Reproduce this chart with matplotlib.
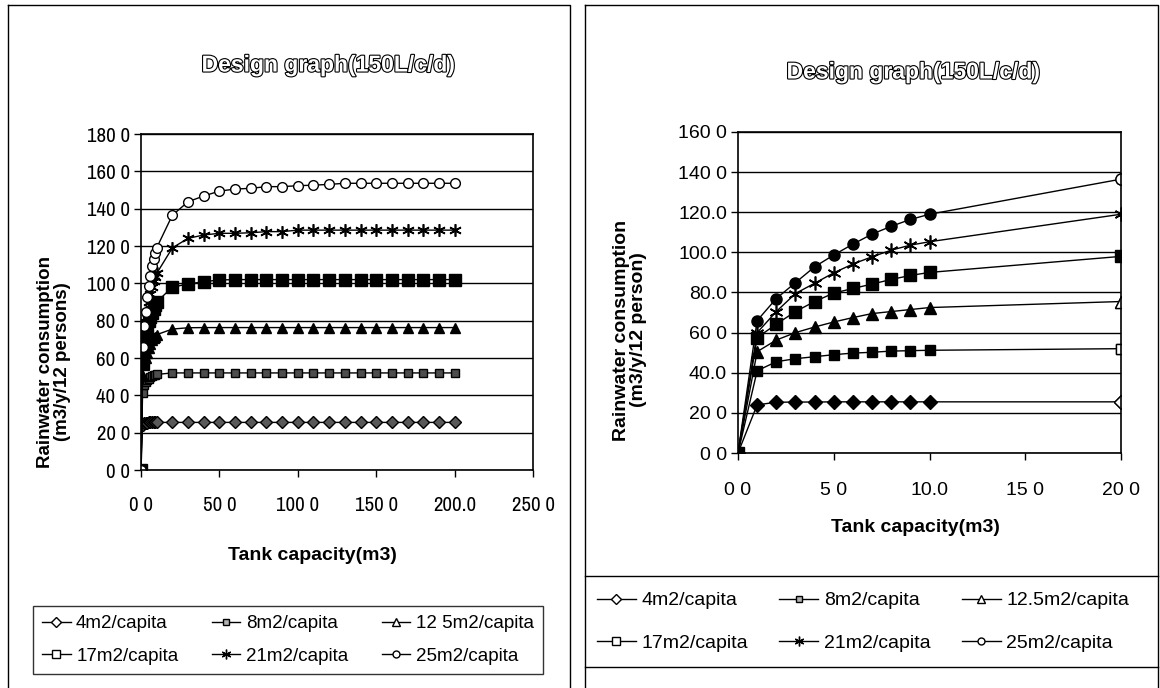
import matplotlib.pyplot as plt
import matplotlib.patheffects as pe
from matplotlib import font_manager
from matplotlib.lines import Line2D

# tank capacity (m3) and yearly rainwater consumption (m3/y/12 persons)
tank = [0, 1, 2, 3, 4, 5, 6, 7, 8, 9, 10, 20, 30, 40, 50, 60, 70, 80, 90, 100,
        110, 120, 130, 140, 150, 160, 170, 180, 190, 200]

roof_4 = [0.0, 24.0, 25.3, 25.4, 25.4, 25.5, 25.5, 25.5, 25.5, 25.5, 25.5, 25.5,
          25.5, 25.5, 25.5, 25.5, 25.5, 25.5, 25.5, 25.5, 25.5, 25.5, 25.5, 25.5,
          25.5, 25.5, 25.5, 25.5, 25.5, 25.5]
roof_8 = [0.0, 41.0, 45.5, 47.0, 48.0, 49.0, 49.8, 50.2, 50.8, 51.0, 51.2, 52.0,
          52.0, 52.0, 52.0, 52.0, 52.0, 52.0, 52.0, 52.0, 52.0, 52.0, 52.0, 52.0,
          52.0, 52.0, 52.0, 52.0, 52.0, 52.0]
roof_12_5 = [0.0, 50.5, 56.3, 60.0, 62.8, 65.3, 67.5, 69.5, 70.5, 71.5, 72.5, 75.5,
             76.2, 76.3, 76.3, 76.3, 76.3, 76.3, 76.3, 76.3, 76.3, 76.3, 76.3, 76.3,
             76.3, 76.3, 76.3, 76.3, 76.3, 76.3]
roof_17 = [0.0, 57.5, 64.2, 70.5, 75.5, 79.7, 82.0, 84.2, 86.5, 88.5, 90.0, 98.0,
           99.6, 100.9, 101.8, 102.0, 102.0, 102.0, 102.0, 102.0, 102.0, 102.0, 102.0,
           102.0, 102.0, 102.0, 102.0, 102.0, 102.0, 102.0]
roof_21 = [0.0, 60.0, 70.5, 79.5, 84.6, 89.8, 94.2, 97.8, 101.1, 103.6, 105.3, 119.0,
           124.1, 125.9, 126.8, 126.8, 127.1, 127.7, 127.7, 128.5, 128.5, 128.5, 128.5,
           128.5, 128.5, 128.5, 128.5, 128.5, 128.5, 128.5]
roof_25 = [0.0, 66.0, 77.0, 84.9, 92.8, 98.7, 104.1, 109.1, 113.0, 116.4, 119.0, 136.5,
           143.7, 146.8, 149.4, 150.5, 150.9, 151.8, 151.8, 152.3, 152.6, 153.0, 153.6,
           153.6, 153.6, 153.6, 153.6, 153.6, 153.6, 153.6]

labels_left = ['4m2/capita', '8m2/capita', '12 5m2/capita',
               '17m2/capita', '21m2/capita', '25m2/capita']
labels_right = ['4m2/capita', '8m2/capita', '12.5m2/capita',
                '17m2/capita', '21m2/capita', '25m2/capita']

yticks_left = [0, 20, 40, 60, 80, 100, 120, 140, 160, 180]
ytick_labels_left = ['0 0', '20 0', '40 0', '60 0', '80 0', '100 0',
                     '120 0', '140 0', '160 0', '180 0']
xticks_left = [0, 50, 100, 150, 200, 250]
xtick_labels_left = ['0 0', '50 0', '100 0', '150 0', '200.0', '250 0']

yticks_right = [0, 20, 40, 60, 80, 100, 120, 140, 160]
ytick_labels_right = ['0 0', '20 0', '40.0', '60 0', '80.0', '100.0',
                      '120.0', '140 0', '160 0']
xticks_right = [0, 5, 10, 15, 20]
xtick_labels_right = ['0 0', '5 0', '10.0', '15 0', '20 0']

series = [roof_4, roof_8, roof_12_5, roof_17, roof_21, roof_25]

REGULAR = ['Liberation Sans', 'DejaVu Sans']
plt.rcParams['font.family'] = REGULAR

# prefer a condensed sans for the long-range axis numbers if one is installed
installed = {f.name for f in font_manager.fontManager.ttflist}
narrow = [nm for nm in sorted(installed) if 'Narrow' in nm or 'Condensed' in nm]
NARROW = narrow[:1] + REGULAR

W, H = 1160, 688
fig = plt.figure(figsize=(W / 100, H / 100), dpi=100)


def box(x0, y0, x1, y1):
    return [x0 / W, 1 - y1 / H, (x1 - x0) / W, (y1 - y0) / H]


def hline(x0, x1, y):
    fig.add_artist(Line2D([x0 / W, x1 / W], [1 - y / H, 1 - y / H],
                          color='black', lw=1.0))


def frame(x0, y0, x1, y1):
    xs = [x0 / W, x1 / W, x1 / W, x0 / W, x0 / W]
    ys = [1 - y0 / H, 1 - y0 / H, 1 - y1 / H, 1 - y1 / H, 1 - y0 / H]
    fig.add_artist(Line2D(xs, ys, color='black', lw=1.0))


# outer chart frames
frame(8, 5, 570, 700)
frame(585, 5, 1158, 700)

star = (6, 2, 0)
left_style = [
    dict(marker='D', ms=6, mfc='0.35'),
    dict(marker='s', ms=6, mfc='0.3'),
    dict(marker='^', ms=7, mfc='black'),
    dict(marker='s', ms=8, mfc='black'),
    dict(marker=star, ms=9, mew=1.2),
    dict(marker='o', ms=7, mfc='white'),
]
right_style = [
    dict(marker='D', ms=7, mfc='black'),
    dict(marker='s', ms=7, mfc='black'),
    dict(marker='^', ms=8, mfc='black'),
    dict(marker='s', ms=8, mfc='black'),
    dict(marker=star, ms=10, mew=1.2),
    dict(marker='o', ms=8, mfc='black'),
]
# on the short-range chart the 20 m3 point is drawn hollow for these series
open_last = [True, True, True, False, False, True]
legend_style = [
    dict(marker='D', ms=5, mfc='white'),
    dict(marker='s', ms=5, mfc='0.7'),
    dict(marker='^', ms=6, mfc='white'),
    dict(marker='s', ms=6, mfc='white'),
    dict(marker=star, ms=7, mew=1.0),
    dict(marker='o', ms=5, mfc='white'),
]


def style_axes(ax, xt, xl, yt, yl, fam, fs, xpad):
    ax.set_xticks(xt)
    ax.set_xticklabels(xl, family=fam, fontsize=fs)
    ax.set_yticks(yt)
    ax.set_yticklabels(yl, family=fam, fontsize=fs)
    ax.tick_params(axis='x', direction='out', length=5, width=1, pad=xpad)
    ax.tick_params(axis='y', direction='out', length=5, width=1, pad=3)
    ax.yaxis.grid(True, color='black', lw=1.0)
    ax.set_axisbelow(True)
    for s in ax.spines.values():
        s.set_color('black')
        s.set_linewidth(1.2)


def make_legend(labels, anchor, fs, hlen, colsp, spacing, framed):
    handles = [Line2D([], [], color='black', lw=1, mec='black', **st)
               for st in legend_style]
    order = [0, 3, 1, 4, 2, 5]
    leg = fig.legend([handles[i] for i in order], [labels[i] for i in order],
                     ncol=3, loc='upper left', bbox_to_anchor=anchor,
                     borderaxespad=0, prop={'size': fs},
                     frameon=framed, fancybox=False, edgecolor='black',
                     handlelength=hlen, handletextpad=0.3, columnspacing=colsp,
                     borderpad=0.5, labelspacing=spacing)
    leg.get_frame().set_linewidth(1.0)
    return leg


title_fx = [pe.Stroke(linewidth=1.6, foreground='black'), pe.Normal()]

# left chart: tank sizes up to 200 m3
ax1 = fig.add_axes(box(141, 134, 533, 470))
for y, st in zip(series, left_style):
    ax1.plot(tank, y, color='black', lw=1.0, mec='black', **st)
ax1.set_xlim(0, 250)
ax1.set_ylim(0, 180)
style_axes(ax1, xticks_left, xtick_labels_left, yticks_left, ytick_labels_left,
           NARROW, 15, 14)
fig.text(328 / W, 1 - 65 / H, 'Design graph(150L/c/d)', ha='center', va='center',
         fontsize=16.5, fontweight='bold', color='white', path_effects=title_fx)
fig.text(312 / W, 1 - 556 / H, 'Tank capacity(m3)', ha='center', va='center',
         fontsize=14, fontweight='bold')
fig.text(54 / W, 1 - 362 / H, 'Rainwater consumption\n(m3/y/12 persons)',
         ha='center', va='center', rotation=90, fontsize=13.5,
         fontweight='bold', linespacing=1.0)
make_legend(labels_left, (33 / W, 1 - 606 / H), 13.5, 1.5, 1.8, 0.8, True)

# right chart: tank sizes up to 20 m3
n = 12
ax2 = fig.add_axes(box(738, 132, 1121, 453))
for y, st, hollow in zip(series, right_style, open_last):
    ax2.plot(tank[:n], y[:n], color='black', lw=1.0, mec='black', **st)
    if hollow:
        ax2.plot(tank[n - 1:n], y[n - 1:n], ls='none', mec='black',
                 **dict(st, mfc='white'))
ax2.set_xlim(0, 20)
ax2.set_ylim(0, 160)
style_axes(ax2, xticks_right, xtick_labels_right, yticks_right, ytick_labels_right,
           REGULAR, 14, 16)
fig.text(913 / W, 1 - 72 / H, 'Design graph(150L/c/d)', ha='center', va='center',
         fontsize=16.5, fontweight='bold', color='white', path_effects=title_fx)
fig.text(915 / W, 1 - 528 / H, 'Tank capacity(m3)', ha='center', va='center',
         fontsize=14, fontweight='bold')
fig.text(630 / W, 1 - 330 / H, 'Rainwater consumption\n(m3/y/12 person)',
         ha='center', va='center', rotation=90, fontsize=14,
         fontweight='bold', linespacing=1.0)
make_legend(labels_right, (587 / W, 1 - 582 / H), 14, 2.0, 1.6, 1.3, False)
hline(585, 1158, 576)
hline(585, 1158, 667)

fig.savefig('out.png', dpi=100)
